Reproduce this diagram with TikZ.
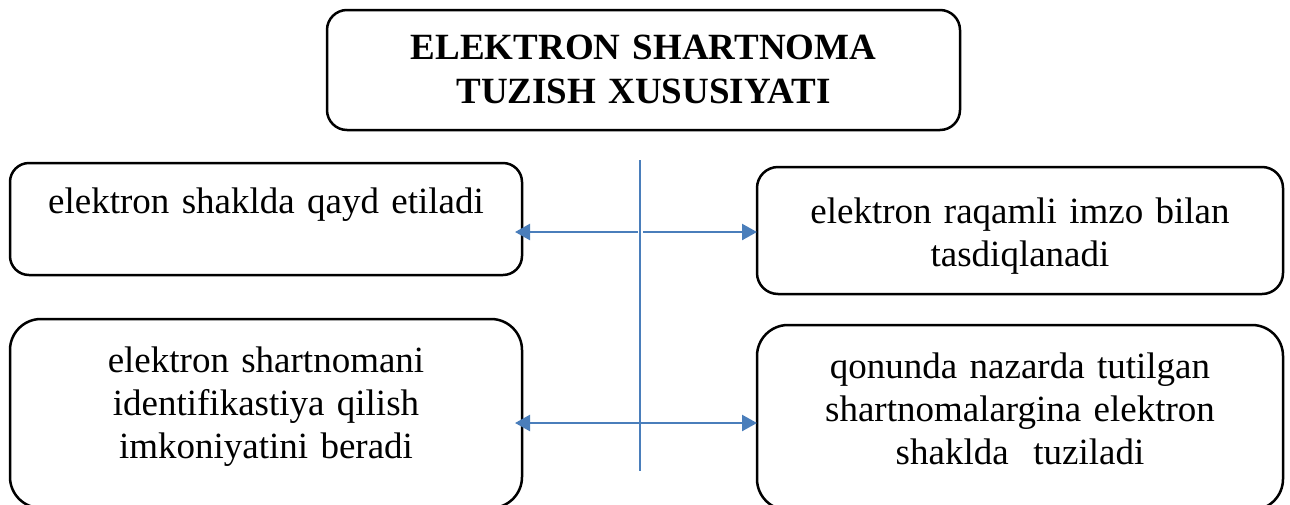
\documentclass[tikz,border=0pt]{standalone}
\usepackage{fontspec}
\setmainfont{Liberation Serif}
\usepackage{xcolor}
\usetikzlibrary{arrows.meta}
\definecolor{linkblue}{HTML}{4A7EBB}
\tikzset{%
      card/.style = { draw, line width=2.5pt, inner sep=0pt, outer sep=0pt, align=center,
                      text height=50pt, font=\fontsize{37}{43}\selectfont },
     title/.style = { card, text height=49pt, font=\bfseries\fontsize{37}{44}\selectfont },
     spine/.style = { linkblue, line width=2.2pt },
      link/.style = { linkblue, line width=2.4pt, -{Triangle[length=15pt,width=16pt]} }
}

\begin{document}
\begin{tikzpicture}[x=1pt,y=1pt,line join=round]
\useasboundingbox (0,0) rectangle (1290,-504);
% heading
\node (head) [title, rounded corners=20pt, text width=633pt, text depth=71pt] at (643.5,-70)
  {ELEKTRON SHARTNOMA\\TUZISH XUSUSIYATI};
% left column
\node (qayd) [card, rounded corners=19pt, text width=512pt, text depth=62pt] at (266,-219)
  {elektron shaklda qayd etiladi};
\node (ident) [card, rounded corners=31pt, text height=53pt, text depth=136pt, text width=512pt] at (266,-413.5)
  {elektron shartnomani\\identifikastiya qilish\\imkoniyatini beradi};
% right column
\node (imzo) [card, rounded corners=21pt, text height=56pt, text width=526pt, text depth=71pt] at (1020,-230.5)
  {elektron raqamli imzo bilan\\tasdiqlanadi};
\node (qonun) [card, rounded corners=31pt, text height=53pt, text depth=132pt, text width=526pt] at (1020,-417.5)
  {qonunda nazarda tutilgan\\shartnomalargina elektron\\shaklda~ tuziladi};
% blue spine with the branches
\coordinate (stop) at (640,-160);
\coordinate (sbot) at (640,-471);
\coordinate (j1) at (640,-232);
\coordinate (j2) at (640,-423);
\draw[spine] (stop) -- (sbot);
\draw[link, shorten >=-7pt] ([xshift=-2pt]j1) -- (qayd.east |- j1);
\draw[link] ([xshift=3pt]j1) -- (imzo.west |- j1);
\draw[link, shorten >=-7pt] (j2) -- (ident.east |- j2);
\draw[link] (j2) -- (qonun.west |- j2);
\end{tikzpicture}
\end{document}
